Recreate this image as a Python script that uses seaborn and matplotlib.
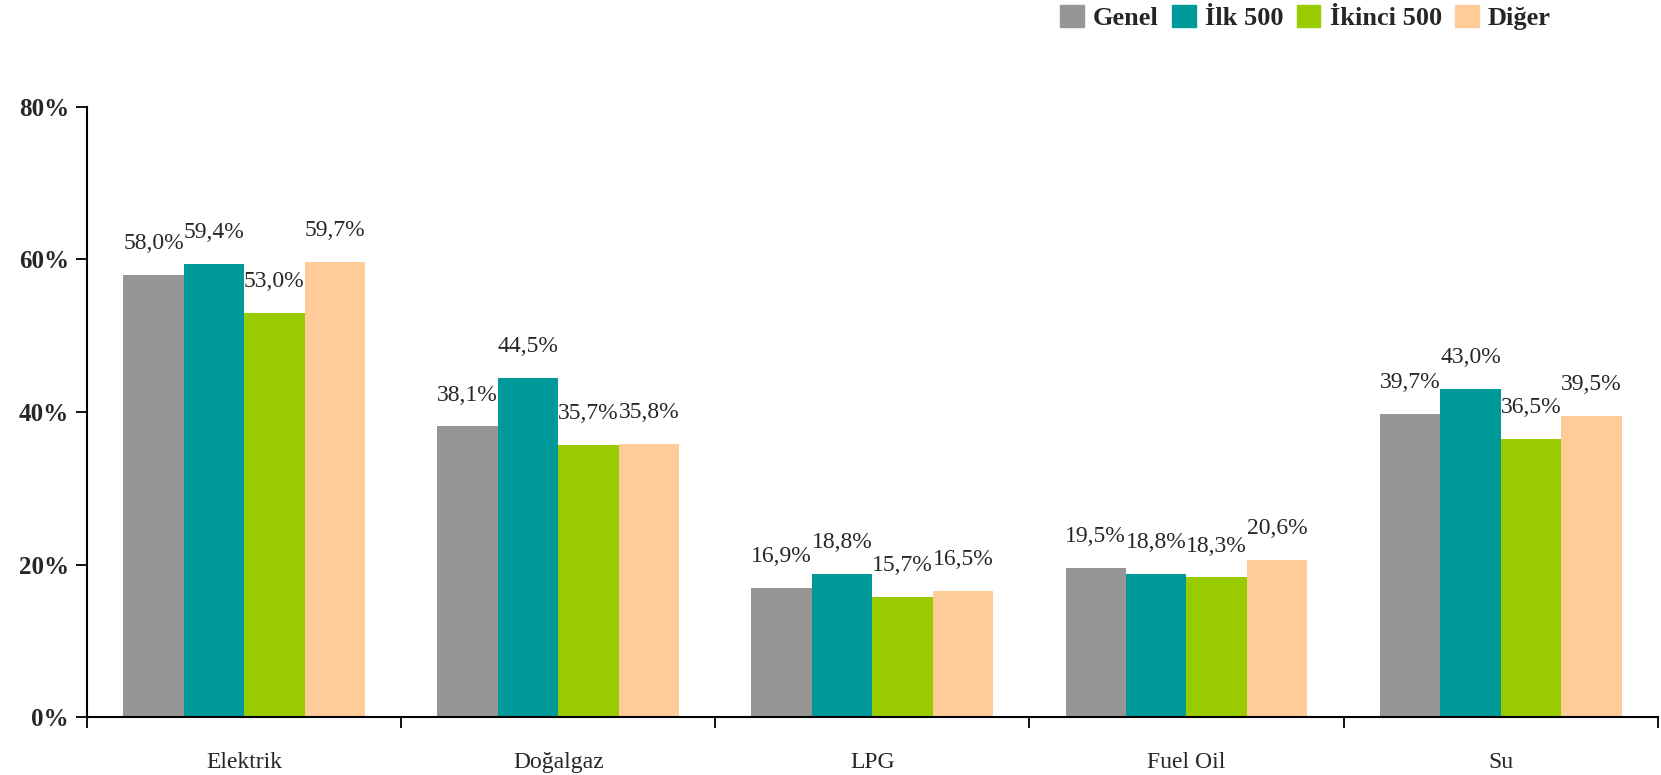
import pandas as pd
import matplotlib
matplotlib.use('Agg')
import matplotlib.pyplot as plt
import seaborn as sns

# Data
categories = ['Elektrik', 'Doğalgaz', 'LPG', 'Fuel Oil', 'Su']
groups = ['Genel', 'İlk 500', 'İkinci 500', 'Diğer']
genel = [58.0, 38.1, 16.9, 19.5, 39.7]
ilk500 = [59.4, 44.5, 18.8, 18.8, 43.0]
ikinci500 = [53.0, 35.7, 15.7, 18.3, 36.5]
diger = [59.7, 35.8, 16.5, 20.6, 39.5]
colors = ['#969696', '#009999', '#99CC00', '#FFCC99']

rows = []
for g, vals in zip(groups, [genel, ilk500, ikinci500, diger]):
    for c, v in zip(categories, vals):
        rows.append({'Kategori': c, 'Grup': g, 'Deger': v / 100})
df = pd.DataFrame(rows)

sns.set_style('white')
plt.rcParams['font.family'] = ['Liberation Serif', 'DejaVu Serif']

fig = plt.figure(figsize=(16.61, 7.75), dpi=100)
ax = fig.add_axes([0.0524, 0.0748, 0.9456, 0.7872])

sns.barplot(data=df, x='Kategori', y='Deger', hue='Grup', order=categories,
            hue_order=groups, palette=colors, width=0.77, saturation=1,
            edgecolor='none', linewidth=0, ax=ax, legend=False)

for cont in ax.containers:
    ax.bar_label(cont, labels=[f'{b.get_height()*100:.1f}%'.replace('.', ',') for b in cont],
                 padding=15, fontsize=17)

ax.set_xlim(-0.5, 4.5)
ax.set_ylim(0, 0.8)
ax.set_yticks([0, 0.2, 0.4, 0.6, 0.8])
ax.set_yticklabels(['0%', '20%', '40%', '60%', '80%'], fontsize=18, fontweight='bold')
ax.set_xticks([-0.5, 0.5, 1.5, 2.5, 3.5, 4.5])
ax.set_xticklabels([])
ax.set_xticks(range(5), minor=True)
ax.set_xticklabels(categories, minor=True, fontsize=17)
ax.tick_params(axis='x', which='minor', bottom=False, length=0, pad=25)
ax.tick_params(axis='x', which='major', bottom=True, length=8, width=1.3, direction='out', color='black')
ax.tick_params(axis='y', left=True, length=8, width=1.3, direction='out', color='black', pad=5)
ax.set_xlabel('')
ax.set_ylabel('')
for s in ['top', 'right']:
    ax.spines[s].set_visible(False)
for s in ['left', 'bottom']:
    ax.spines[s].set_color('black')
    ax.spines[s].set_linewidth(1.5)

handles = [plt.Rectangle((0, 0), 1, 1, color=c) for c in colors]
fig.legend(handles, groups, loc='upper right', bbox_to_anchor=(0.948, 1.024), ncol=4,
           frameon=False, prop={'weight': 'bold', 'size': 19}, handlelength=0.9,
           handleheight=0.9, handletextpad=0.35, columnspacing=0.5)

fig.savefig('out.png', dpi=100)
